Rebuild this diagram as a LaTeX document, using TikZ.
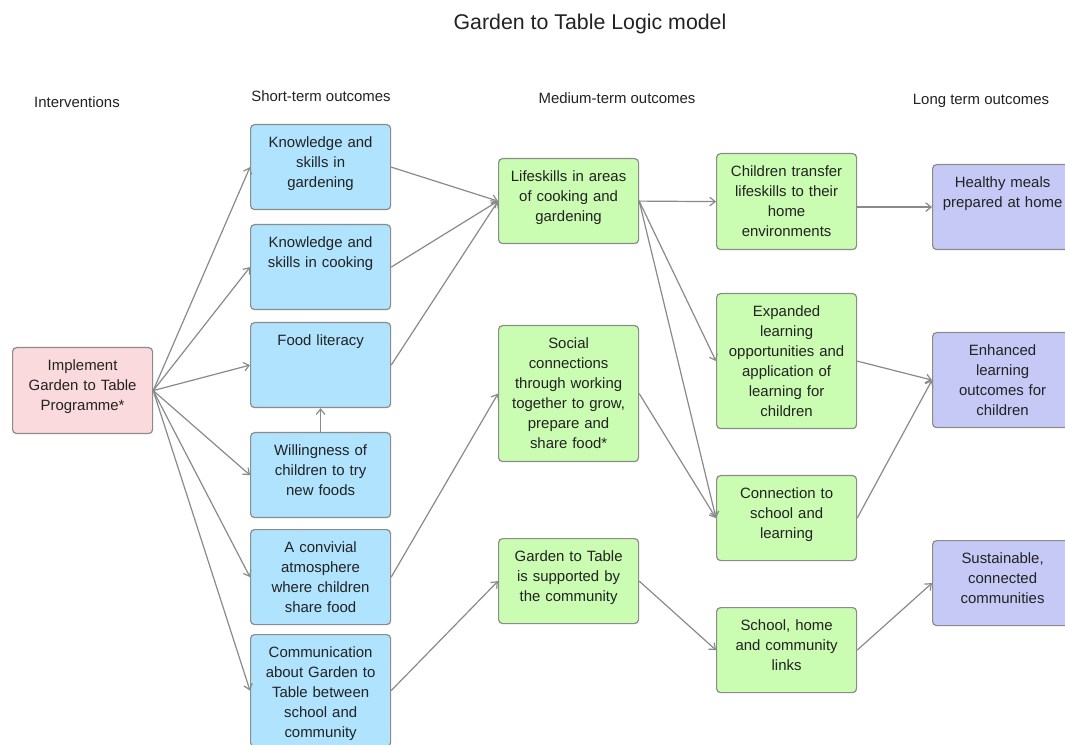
\documentclass[tikz,border=0pt]{standalone}
\usepackage{fontspec}
\setmainfont{Liberation Sans}
\usetikzlibrary{arrows.meta}
\definecolor{pinkbox}{HTML}{FADADD}
\definecolor{bluebox}{HTML}{B0E3FD}
\definecolor{greenbox}{HTML}{CAFCB2}
\definecolor{purplebox}{HTML}{C6C9F5}
\definecolor{boxline}{HTML}{8C8C8C}
\definecolor{linkgray}{HTML}{8A8A8A}
\definecolor{txt}{HTML}{222222}
\tikzset{
  box/.style={draw=boxline, line width=0.9pt, rounded corners=3pt, anchor=north west,
    text width=97pt, inner xsep=4pt, inner ysep=6pt, align=center,
    text height=11pt, text depth=40.75pt, text=txt, font=\fontsize{11.2}{15}\selectfont},
  inter/.style={box, fill=pinkbox},
  short/.style={box, fill=bluebox},
  mid/.style={box, fill=greenbox},
  long/.style={box, fill=purplebox},
  head/.style={text=txt, font=\fontsize{11.2}{15}\selectfont},
  link/.style={draw=linkgray, line width=0.9pt, -{Straight Barb[length=4pt,width=6.5pt]}}
}
\begin{document}
\begin{tikzpicture}[x=0.75pt, y=-0.75pt]
\path[fill=white, use as bounding box] (0,0) rectangle (1065,745);

\node[text=txt, font=\fontsize{16}{19}\selectfont] (title) at (590,24) {Garden to Table Logic model};
\node[head] (hint) at (77,102) {Interventions};
\node[head] (hshort) at (321,96) {Short-term outcomes};
\node[head] (hmid) at (617,98) {Medium-term outcomes};
\node[head] (hlong) at (981,101) {Long term outcomes};

\node[inter, text depth=41.5pt] (impl) at (12,347) {Implement\\Garden to Table\\Programme*};

\node[short] (kgard) at (250,124) {Knowledge and\\skills in\\gardening};
\node[short] (kcook) at (250,224) {Knowledge and\\skills in cooking};
\node[short] (flit) at (250,322) {Food literacy};
\node[short] (will) at (250,432) {Willingness of\\children to try\\new foods};
\node[short, text depth=48.25pt] (conv) at (250,529) {A convivial\\atmosphere\\where children\\share food};
\node[short, text depth=61pt] (comm) at (250,634) {Communication\\about Garden to\\Table between\\school and\\community};

\node[mid] (life) at (498,158) {Lifeskills in areas\\of cooking and\\gardening};
\node[mid, text depth=79pt] (soc) at (498,325) {Social\\connections\\through working\\together to grow,\\prepare and\\share food*};
\node[mid] (supp) at (498,538) {Garden to Table\\is supported by\\the community};

\node[mid, text depth=49pt] (trans) at (716,153) {Children transfer\\lifeskills to their\\home\\environments};
\node[mid, text depth=78.25pt] (expa) at (716,293) {Expanded\\learning\\opportunities and\\application of\\learning for\\children};
\node[mid] (conn) at (716,475) {Connection to\\school and\\learning};
\node[mid] (links) at (716,607) {School, home\\and community\\links};

\node[long] (meal) at (932,164) {Healthy meals\\prepared at home};
\node[long, text depth=48.25pt] (enh) at (932,332) {Enhanced\\learning\\outcomes for\\children};
\node[long] (sust) at (932,540) {Sustainable,\\connected\\communities};

\foreach \t in {kgard,kcook,flit,will,conv,comm}
  \draw[link] (impl.east) -- (\t.west);
\draw[link] (will.north) -- (flit.south);
\foreach \s in {kgard,kcook,flit}
  \draw[link] (\s.east) -- (life.west);
\draw[link] (conv.east) -- (soc.west);
\draw[link] (comm.east) -- (supp.west);
\foreach \t in {trans,expa,conn}
  \draw[link] (life.east) -- (\t.west);
\draw[link] (soc.east) -- (conn.west);
\draw[link] (supp.east) -- (links.west);
\draw[link] (trans.east |- meal.west) -- (meal.west);
\draw[link] (expa.east) -- (enh.west);
\draw[link] (conn.east) -- (enh.west);
\draw[link] (links.east) -- (sust.west);
\end{tikzpicture}
\end{document}
